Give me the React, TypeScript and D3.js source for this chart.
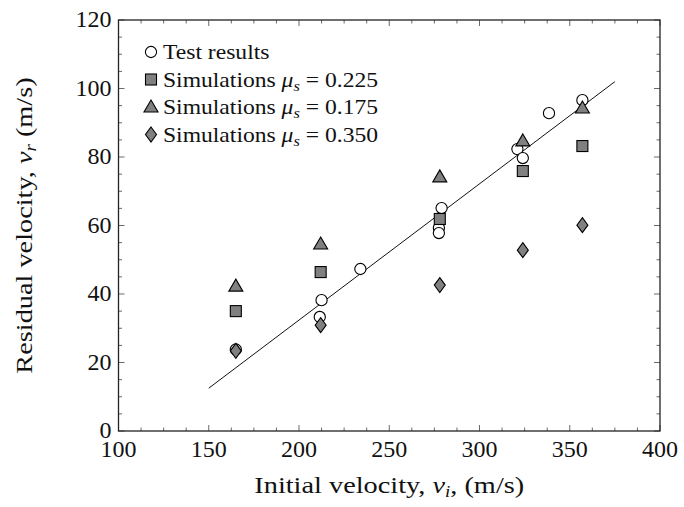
import React from "react";
import * as d3 from "d3";

const testX = [165, 212.5, 211.5, 234, 279, 277.5, 277.5, 321, 324, 338.5, 357];
const testY = [23.8, 38.2, 33.3, 47.3, 65.1, 59.3, 57.8, 82.3, 79.7, 92.8, 96.6];

const simX = [165, 212, 278, 324, 357];
const sim225 = [35.0, 46.4, 61.9, 75.9, 83.2];
const sim175 = [42.3, 54.6, 74.2, 84.7, 94.3];
const sim350 = [23.4, 30.9, 42.6, 52.8, 60.1];

const fitX = [150, 375];
const fitY = [12.5, 102];

const xTicks = [100, 150, 200, 250, 300, 350, 400];
const yTicks = [0, 20, 40, 60, 80, 100, 120];

const W = 684, H = 507;
const L = 118.5, R = 660, T = 20, B = 431;
const FONT = "'Liberation Serif', 'Times New Roman', serif";
const GRAY = "#808080";
const SX = 1.18;

export default function App() {
  const x = d3.scaleLinear().domain([100, 400]).range([L, R]);
  const y = d3.scaleLinear().domain([0, 120]).range([B, T]);

  const xMinor = d3.range(100, 400.01, 12.5).filter((v) => v % 50 !== 0);
  const yMinor = d3.range(0, 120.01, 5).filter((v) => v % 20 !== 0);

  const line = d3.line<number>().x((d, i) => x(fitX[i])).y((d, i) => y(fitY[i]));

  const circle = (cx: number, cy: number, k: string) => (
    <circle key={k} cx={cx} cy={cy} r={5.6} fill="#fff" stroke="#000" strokeWidth={1.1} />
  );
  const square = (cx: number, cy: number, k: string) => (
    <rect key={k} x={cx - 5.5} y={cy - 5.5} width={11} height={11} fill={GRAY} stroke="#000" strokeWidth={1.1} />
  );
  const tri = (cx: number, cy: number, k: string) => (
    <path key={k} d={`M${cx},${cy - 7} L${cx + 7},${cy + 5} L${cx - 7},${cy + 5} Z`} fill={GRAY} stroke="#000" strokeWidth={1.1} />
  );
  const dia = (cx: number, cy: number, k: string) => (
    <path key={k} d={`M${cx},${cy - 7.5} L${cx + 5.5},${cy} L${cx},${cy + 7.5} L${cx - 5.5},${cy} Z`} fill={GRAY} stroke="#000" strokeWidth={1.1} />
  );

  const legend = [
    { m: circle, t: null },
    { m: square, t: "0.225" },
    { m: tri, t: "0.175" },
    { m: dia, t: "0.350" },
  ];

  const tickColor = "#444";

  return (
    <div style={{ position: "fixed", left: 0, top: 0 }}>
      <svg width={W} height={H} style={{ display: "block", background: "#fff" }} fontFamily={FONT}>
        <rect width={W} height={H} fill="#fff" />
        {/* ticks */}
        <g stroke={tickColor} strokeWidth={0.8}>
          {xTicks.map((v) => (
            <g key={"xt" + v}>
              <line x1={x(v)} x2={x(v)} y1={B} y2={B - 6} />
              <line x1={x(v)} x2={x(v)} y1={T} y2={T + 6} />
            </g>
          ))}
          {xMinor.map((v) => (
            <g key={"xm" + v}>
              <line x1={x(v)} x2={x(v)} y1={B} y2={B - 3.5} />
              <line x1={x(v)} x2={x(v)} y1={T} y2={T + 3.5} />
            </g>
          ))}
          {yTicks.map((v) => (
            <g key={"yt" + v}>
              <line x1={L} x2={L + 6} y1={y(v)} y2={y(v)} />
              <line x1={R} x2={R - 6} y1={y(v)} y2={y(v)} />
            </g>
          ))}
          {yMinor.map((v) => (
            <g key={"ym" + v}>
              <line x1={L} x2={L + 3.5} y1={y(v)} y2={y(v)} />
              <line x1={R} x2={R - 3.5} y1={y(v)} y2={y(v)} />
            </g>
          ))}
        </g>
        <rect x={L} y={T} width={R - L} height={B - T} fill="none" stroke="#222" strokeWidth={1.3} />

        {/* tick labels */}
        <g fontSize={24} fill="#111">
          {xTicks.map((v) => (
            <text key={"xl" + v} x={x(v)} y={B + 26} textAnchor="middle">{v}</text>
          ))}
          {yTicks.map((v) => (
            <text key={"yl" + v} x={L - 7} y={y(v) + 7} textAnchor="end">{v}</text>
          ))}
        </g>

        {/* axis titles */}
        <text transform={`translate(${(L + R) / 2},493) scale(${SX},1)`} textAnchor="middle" fontSize={24} fill="#111">
          Initial velocity, <tspan fontStyle="italic">v</tspan><tspan fontStyle="italic" fontSize={16} dy={4}>i</tspan><tspan dy={-4}>, (m/s)</tspan>
        </text>
        <text transform={`translate(32,${(T + B) / 2}) rotate(-90) scale(${SX},1)`} textAnchor="middle" fontSize={24} fill="#111">
          Residual velocity, <tspan fontStyle="italic">v</tspan><tspan fontStyle="italic" fontSize={16} dy={4}>r</tspan><tspan dy={-4}> (m/s)</tspan>
        </text>

        {/* fit line */}
        <path d={line(fitX) || ""} fill="none" stroke="#111" strokeWidth={1} />

        {/* data */}
        <g>{testX.map((v, i) => circle(x(v), y(testY[i]), "c" + i))}</g>
        <g>{simX.map((v, i) => square(x(v), y(sim225[i]), "s" + i))}</g>
        <g>{simX.map((v, i) => tri(x(v), y(sim175[i]), "t" + i))}</g>
        <g>{simX.map((v, i) => dia(x(v), y(sim350[i]), "d" + i))}</g>

        {/* legend */}
        <g fontSize={20} fill="#111">
          {legend.map((d, i) => {
            const cy = 52 + i * 27.5;
            return (
              <g key={"lg" + i}>
                {d.m(151, cy, "lm" + i)}
                {d.t === null ? (
                  <text transform={`translate(163,${cy + 7}) scale(${SX},1)`}>Test results</text>
                ) : (
                  <text transform={`translate(163,${cy + 7}) scale(${SX},1)`}>
                    Simulations <tspan fontStyle="italic">μ</tspan><tspan fontStyle="italic" fontSize={14} dy={4}>s</tspan><tspan dy={-4}> = {d.t}</tspan>
                  </text>
                )}
              </g>
            );
          })}
        </g>
      </svg>
    </div>
  );
}
